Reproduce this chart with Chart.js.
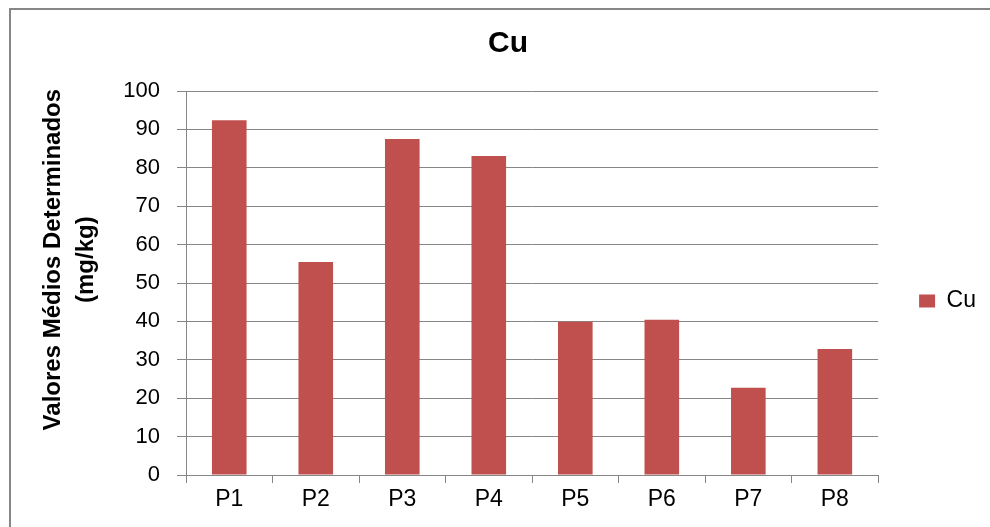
<!DOCTYPE html>
<html>
<head>
<meta charset="utf-8">
<title>Cu</title>
<script src="https://cdn.jsdelivr.net/npm/chart.js@4.4.1/dist/chart.umd.min.js"></script>
<style>
  html, body { margin: 0; padding: 0; background: #fff; overflow: hidden; }
  #wrap { position: relative; width: 990px; height: 527px; }
  #frame {
    position: absolute; left: 9px; top: 8px; width: 1000px; height: 600px;
    border: 2px solid #868686; pointer-events: none;
  }
</style>
</head>
<body>
<div id="wrap">
  <canvas id="cu-chart" width="990" height="527"></canvas>
  <div id="frame"></div>
</div>
<script>
// data
const pontos = ["P1", "P2", "P3", "P4", "P5", "P6", "P7", "P8"];
const valoresCu = [92.4, 55.5, 87.5, 83.1, 39.9, 40.4, 22.7, 32.8];
const serieNome = "Cu";
const tituloY = ["       Valores Médios Determinados", "       (mg/kg)"];

const cinza = "#868686";
const vermelho = "#C0504D";
const fonte = "'Liberation Sans', Arial, sans-serif";

const dataCu = {
  labels: pontos,
  datasets: [
    {
      label: serieNome,
      data: valoresCu,
      backgroundColor: vermelho,
      borderWidth: 0,
      barPercentage: 0.4,
      categoryPercentage: 1.0,
    },
  ],
};

const configCu = {
  type: "bar",
  data: dataCu,
  options: {
    responsive: false,
    animation: false,
    devicePixelRatio: 1,
    // left padding keeps the title centred like the original
    layout: { padding: { left: 30, right: 4, top: 0, bottom: 0 } },
    plugins: {
      title: {
        display: true,
        text: "Cu",
        color: "#000",
        font: { family: fonte, size: 30, weight: "bold", lineHeight: 1.2 },
        padding: { top: 26, bottom: 29 },
      },
      legend: {
        position: "right",
        // empty title only pushes the single item down a bit
        title: {
          display: true,
          text: " ",
          font: { family: fonte, size: 10, lineHeight: 1.2 },
          padding: 31.5,
        },
        labels: {
          boxWidth: 16,
          boxHeight: 13,
          padding: 41,
          color: "#000",
          font: { family: fonte, size: 23 },
        },
      },
      tooltip: { enabled: false },
    },
    scales: {
      x: {
        grid: {
          display: true,
          drawOnChartArea: false,
          drawTicks: true,
          tickLength: 8,
          color: cinza,
        },
        border: { color: cinza, width: 1 },
        ticks: {
          color: "#000",
          padding: 3,
          font: { family: fonte, size: 23 },
        },
        afterFit: (scale) => {
          scale.height = 52;
        },
      },
      y: {
        min: 0,
        max: 100,
        ticks: {
          stepSize: 10,
          color: "#000",
          padding: 17,
          font: { family: fonte, size: 22 },
        },
        grid: {
          color: cinza,
          tickLength: 9,
          drawTicks: true,
        },
        border: { color: cinza, width: 1 },
        title: {
          display: true,
          text: tituloY,
          color: "#000",
          font: { family: fonte, size: 24, weight: "bold", lineHeight: 1.38 },
          padding: { top: 7, bottom: 0 },
        },
        afterFit: (scale) => {
          scale.width = 156;
        },
      },
    },
  },
};

const canvasCu = document.getElementById("cu-chart");
const graficoCu = new Chart(canvasCu, configCu);
</script>
</body>
</html>
